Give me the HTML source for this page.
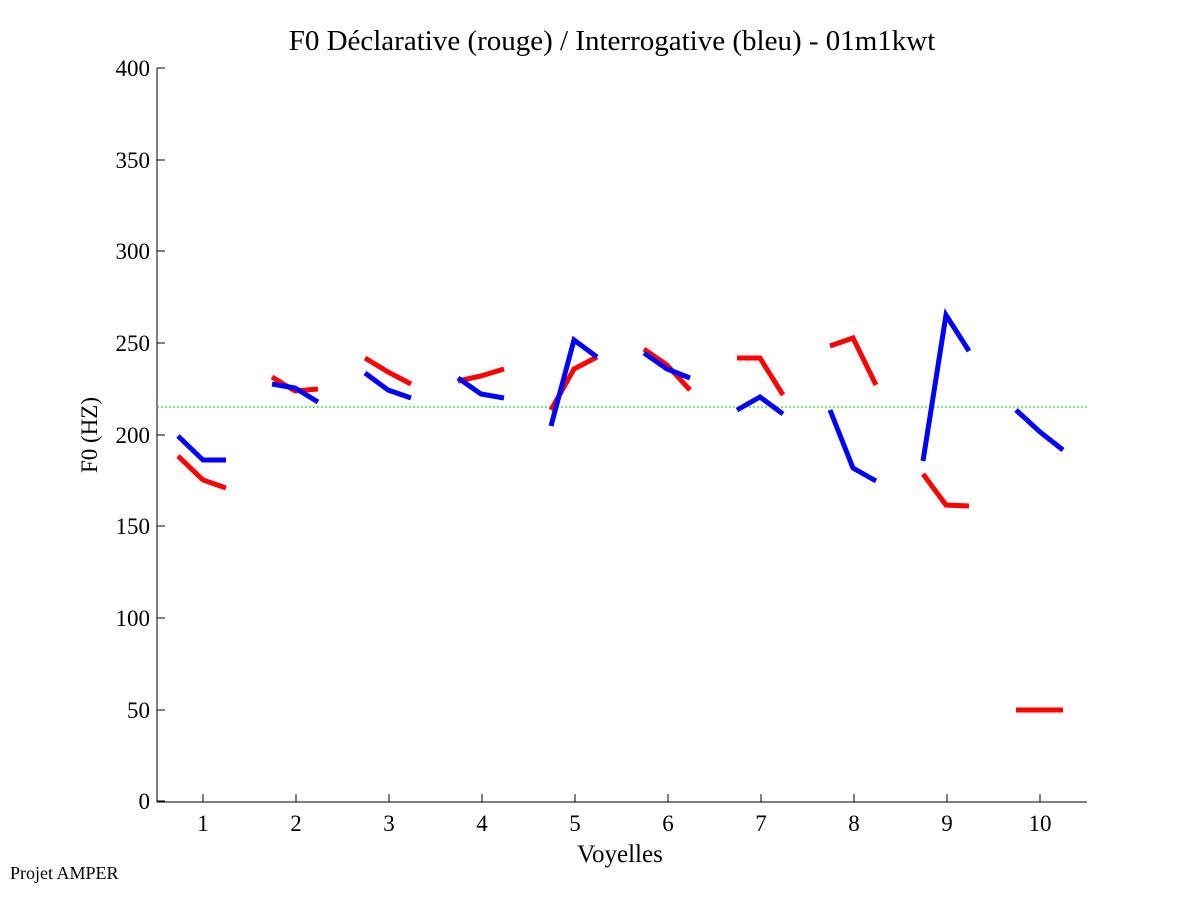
<!DOCTYPE html>
<html><head><meta charset="utf-8"><style>
body{margin:0;background:#fff;}
svg text{font-family:"Liberation Serif",serif;fill:#000;}
</style></head><body>
<svg width="1201" height="901" viewBox="0 0 1201 901" xmlns="http://www.w3.org/2000/svg">
<rect width="1201" height="901" fill="#fff"/>
<text x="612" y="50" font-size="29" text-anchor="middle">F0 Déclarative (rouge) / Interrogative (bleu) - 01m1kwt</text>
<g stroke="#000" stroke-width="1" fill="none">
<line x1="157" y1="68" x2="157" y2="802"/>
<line x1="157" y1="802" x2="1087" y2="802"/>
<line x1="157" y1="801" x2="165" y2="801"/><line x1="157" y1="710" x2="165" y2="710"/>
<line x1="157" y1="618" x2="165" y2="618"/><line x1="157" y1="526" x2="165" y2="526"/>
<line x1="157" y1="435" x2="165" y2="435"/><line x1="157" y1="343" x2="165" y2="343"/>
<line x1="157" y1="251" x2="165" y2="251"/><line x1="157" y1="160" x2="165" y2="160"/>
<line x1="157" y1="68" x2="165" y2="68"/>
<line x1="203" y1="802" x2="203" y2="794"/><line x1="296" y1="802" x2="296" y2="794"/>
<line x1="389" y1="802" x2="389" y2="794"/><line x1="482" y1="802" x2="482" y2="794"/>
<line x1="575" y1="802" x2="575" y2="794"/><line x1="668" y1="802" x2="668" y2="794"/>
<line x1="761" y1="802" x2="761" y2="794"/><line x1="854" y1="802" x2="854" y2="794"/>
<line x1="947" y1="802" x2="947" y2="794"/><line x1="1040" y1="802" x2="1040" y2="794"/>
</g>
<g font-size="23" text-anchor="end">
<text x="150" y="809">0</text><text x="150" y="718">50</text><text x="150" y="626">100</text>
<text x="150" y="534">150</text><text x="150" y="443">200</text><text x="150" y="351">250</text>
<text x="150" y="259">300</text><text x="150" y="168">350</text><text x="150" y="76">400</text>
</g>
<g font-size="23" text-anchor="middle">
<text x="203" y="831">1</text><text x="296" y="831">2</text><text x="389" y="831">3</text>
<text x="482" y="831">4</text><text x="575" y="831">5</text><text x="668" y="831">6</text>
<text x="761" y="831">7</text><text x="854" y="831">8</text><text x="947" y="831">9</text>
<text x="1040" y="831">10</text>
<text x="620" y="862" font-size="25">Voyelles</text>
</g>
<text x="97" y="435" font-size="23" text-anchor="middle" transform="rotate(-90 97 435)">F0 (HZ)</text>
<text x="10" y="879" font-size="18">Projet AMPER</text>
<line x1="157" y1="407" x2="1087" y2="407" stroke="#0c0" stroke-width="1" stroke-dasharray="2,2"/>
<g fill="none" stroke="#f00" stroke-width="5">
<polyline points="178,456 203,480 226,488"/>
<polyline points="272,377 295,391 318,389"/>
<polyline points="365,358 388,372 411,384"/>
<polyline points="458,381 481,376 504,369"/>
<polyline points="551,410 574,369 597,357"/>
<polyline points="644,349 667,365 690,390"/>
<polyline points="737,358 760,358 783,395"/>
<polyline points="830,346 853,338 876,385"/>
<polyline points="923,474 946,505 969,506"/>
<polyline points="1016,710 1040,710 1063,710"/>
</g>
<g fill="none" stroke="#00f" stroke-width="5">
<polyline points="178,436 203,460 226,460"/>
<polyline points="272,384 295,388 318,402"/>
<polyline points="365,373 388,390 411,398"/>
<polyline points="458,378 481,394 504,398"/>
<polyline points="551,426 574,340 597,357"/>
<polyline points="644,353 667,369 690,378"/>
<polyline points="737,410 760,397 783,414"/>
<polyline points="830,410 853,468 876,481"/>
<polyline points="923,461 946,315 969,351"/>
<polyline points="1016,410 1040,432 1063,450"/>
</g>
</svg>
</body></html>
